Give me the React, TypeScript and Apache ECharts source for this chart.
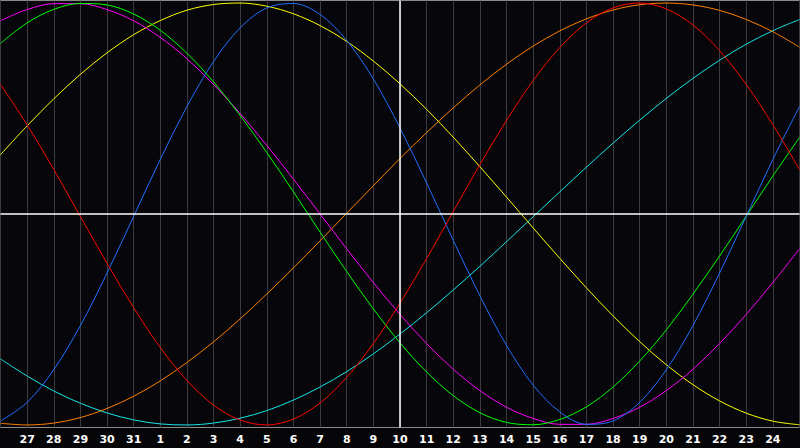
import React, { useEffect, useRef } from "react";
import * as echarts from "echarts";

const days = ["26", "27", "28", "29", "30", "31", "1", "2", "3", "4", "5", "6", "7", "8", "9", "10", "11", "12", "13", "14", "15", "16", "17", "18", "19", "20", "21", "22", "23", "24", "25"];
const todayIndex = 15;

const red = [0.614, 0.423, 0.211, -0.012, -0.234, -0.444, -0.633, -0.789, -0.906, -0.977, -1.0, -0.972, -0.896, -0.774, -0.614, -0.423, -0.211, 0.012, 0.234, 0.444, 0.633, 0.789, 0.906, 0.977, 1.0, 0.972, 0.896, 0.774, 0.614, 0.423, 0.211];
const blue = [-0.981, -0.893, -0.738, -0.529, -0.28, -0.011, 0.259, 0.51, 0.723, 0.883, 0.977, 0.998, 0.946, 0.823, 0.64, 0.408, 0.147, -0.125, -0.388, -0.623, -0.811, -0.938, -0.997, -0.981, -0.893, -0.738, -0.529, -0.28, -0.011, 0.259, 0.51];
const green = [0.809, 0.906, 0.97, 0.998, 0.991, 0.948, 0.871, 0.762, 0.626, 0.467, 0.291, 0.105, -0.086, -0.273, -0.45, -0.611, -0.749, -0.861, -0.942, -0.988, -0.999, -0.974, -0.914, -0.82, -0.697, -0.549, -0.38, -0.199, -0.01, 0.18, 0.363];
const yellow = [0.281, 0.418, 0.546, 0.662, 0.764, 0.85, 0.917, 0.966, 0.993, 1.0, 0.985, 0.949, 0.893, 0.818, 0.725, 0.617, 0.496, 0.364, 0.224, 0.08, -0.066, -0.21, -0.35, -0.483, -0.605, -0.715, -0.809, -0.886, -0.944, -0.982, -0.999];
const magenta = [0.916, 0.969, 0.997, 0.997, 0.969, 0.916, 0.837, 0.736, 0.614, 0.476, 0.325, 0.165, 0.0, -0.165, -0.325, -0.476, -0.614, -0.736, -0.837, -0.916, -0.969, -0.997, -0.997, -0.969, -0.916, -0.837, -0.736, -0.614, -0.476, -0.325, -0.165];
const cyan = [-0.687, -0.768, -0.839, -0.897, -0.943, -0.976, -0.995, -1.0, -0.991, -0.968, -0.932, -0.882, -0.82, -0.747, -0.663, -0.569, -0.468, -0.36, -0.248, -0.131, -0.013, 0.105, 0.222, 0.336, 0.445, 0.548, 0.643, 0.729, 0.805, 0.869, 0.922];
const orange = [-0.992, -1.0, -0.991, -0.965, -0.922, -0.864, -0.791, -0.704, -0.606, -0.497, -0.379, -0.255, -0.127, 0.004, 0.134, 0.263, 0.386, 0.503, 0.612, 0.71, 0.796, 0.868, 0.925, 0.967, 0.992, 1.0, 0.991, 0.965, 0.922, 0.864, 0.791];

const curves: [number[], string][] = [
  [cyan, "#19e6e6"],
  [orange, "#ff8000"],
  [yellow, "#ffff00"],
  [magenta, "#ff00ff"],
  [green, "#00ff00"],
  [blue, "#1f6fff"],
  [red, "#ff0000"],
];

export default function App() {
  const ref = useRef<HTMLDivElement>(null);
  useEffect(() => {
    if (!ref.current) return;
    const chart = echarts.init(ref.current, null, { renderer: "svg" });
    const series: any[] = [
      {
        type: "line",
        data: [],
        z: 1,
        silent: true,
        markLine: {
          silent: true,
          symbol: "none",
          label: { show: false },
          lineStyle: { color: "#ffffff", width: 1.5, type: "solid" },
          data: [{ xAxis: todayIndex }, { yAxis: 0 }],
        },
      },
    ];
    curves.forEach(([d, c]) => {
      series.push({
        type: "line",
        data: d.map((v, i) => [i, v]),
        smooth: 0.33,
        showSymbol: false,
        symbol: "none",
        z: 3,
        lineStyle: { color: c, width: 1 },
        itemStyle: { color: c },
      });
    });
    const last = days.length - 1;
    chart.setOption({
      animation: false,
      backgroundColor: "#060609",
      grid: {
        left: 0.5,
        right: 0.5,
        top: 0.5,
        height: 427,
        show: true,
        borderColor: "#8c8c8c",
        borderWidth: 1,
        backgroundColor: "#07070b",
        containLabel: false,
        outerBoundsMode: "none",
      },
      xAxis: {
        type: "value",
        min: 0,
        max: last,
        interval: 1,
        axisLine: { show: false },
        axisTick: { show: false },
        axisLabel: {
          hideOverlap: false,
          showMinLabel: false,
          showMaxLabel: false,
          color: "#ffffff",
          fontFamily: "DejaVu Sans",
          fontWeight: "bold",
          fontSize: 11,
          margin: 6,
          formatter: (v: number) => (v <= 0 || v >= last ? "" : days[Math.round(v)]),
        },
        splitLine: { show: true, lineStyle: { color: "#3c3c40", width: 1 } },
      },
      yAxis: {
        type: "value",
        min: -1.012,
        max: 1.012,
        show: false,
        splitLine: { show: false },
      },
      series,
    });
    return () => chart.dispose();
  }, []);
  return (
    <div
      ref={ref}
      style={{ position: "fixed", left: 0, top: 0, width: 800, height: 448, background: "#060609" }}
    />
  );
}
